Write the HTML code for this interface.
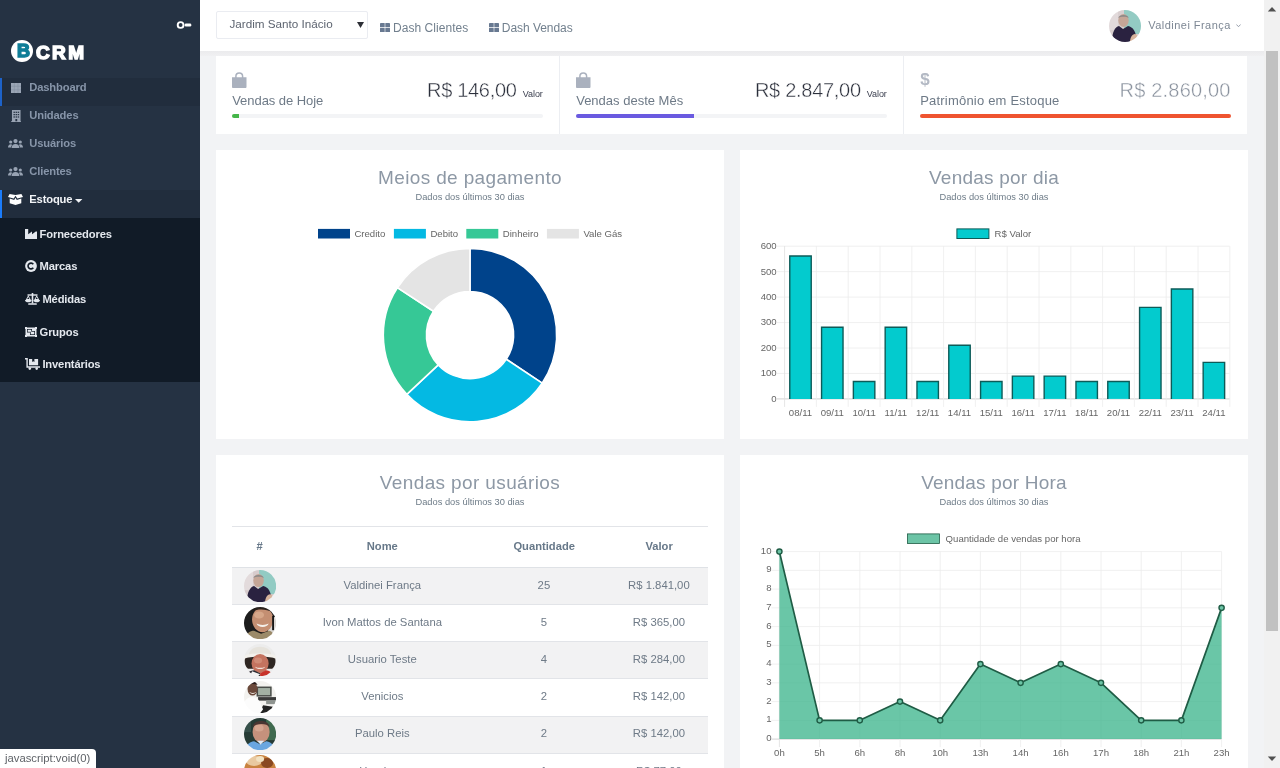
<!DOCTYPE html>
<html lang="pt-br">
<head>
<meta charset="utf-8">
<title>BCRM - Dashboard</title>
<style>
*{box-sizing:border-box;margin:0;padding:0}
html,body{width:1280px;height:768px;overflow:hidden}
body{font-family:"Liberation Sans",sans-serif;background:#f2f3f5;color:#6e7c88;position:relative}
.abs{position:absolute}
#sidebar,#header,.card,#status{will-change:transform}
/* sidebar */
#sidebar{position:absolute;left:0;top:0;width:200px;height:768px;background:#253243}
.nav-item{position:absolute;left:0;width:200px;height:28px}
.nav-item.active{background:#212d3d}
.nav-item.active:before{content:"";position:absolute;left:0;top:0;width:2px;height:27.500px;background:#1d62c9}
.nav-item.open:before{background:#1b7cfb}
.nav-item .txt{position:absolute;left:29.3px;top:2.2px;font-size:11.2px;line-height:14px;font-weight:bold;color:#8795a9;letter-spacing:-0.15px;white-space:nowrap}
.nav-item svg{position:absolute}
#submenu{position:absolute;left:0;top:218px;width:200px;height:164px;background:#111b27}
.sub-item{position:absolute;left:0;width:200px;height:20px}
.sub-item .txt{position:absolute;top:0;font-size:11.2px;line-height:14px;font-weight:bold;color:#e4e8ee;letter-spacing:-0.15px;white-space:nowrap}
/* header */
#header{position:absolute;left:200px;top:0;width:1064px;height:51px;background:#fff}
#hshadow{position:absolute;left:200px;top:51px;width:1064px;height:5px;background:linear-gradient(#ebebed,#f0f0f2)}
/* cards */
.card{position:absolute;background:#fff}
.ctitle{position:absolute;left:0;width:100%;text-align:center;font-size:19px;line-height:22px;color:#8d98a5;white-space:nowrap}
.csub{position:absolute;left:0;width:100%;text-align:center;font-size:9.3px;line-height:11px;color:#6e7c88;white-space:nowrap}
.lab{font-size:13px;line-height:16px;color:#6e7a87;white-space:nowrap}
.val{font-size:20px;line-height:24px;white-space:nowrap;letter-spacing:-.4px;-webkit-text-stroke:.4px #fff}
.valor{font-size:9px;line-height:11px;color:#3c4050;white-space:nowrap;letter-spacing:-.1px}
.th{width:120px;text-align:center;font-size:11.2px;line-height:14px;font-weight:bold;color:#677889;white-space:nowrap}
.td{width:180px;text-align:center;font-size:11.3px;line-height:14px;color:#6e7a87;white-space:nowrap}
#c-usr{overflow:hidden}
/* scrollbar */
#sb{position:absolute;left:1264px;top:0;width:16px;height:768px;background:#f1f1f1}
#sb .thumb{position:absolute;left:2px;top:51px;width:12px;height:580px;background:#c1c1c1}
#status{position:absolute;left:0;top:749px;height:19px;width:96px;background:#fff;border-top-right-radius:4px;font-size:11.3px;line-height:19.500px;color:#5f6368;padding-left:5px;white-space:nowrap}
</style>
</head>
<body>
<svg width="0" height="0" style="position:absolute"><defs><filter id="avblur" x="-20%" y="-20%" width="140%" height="140%"><feGaussianBlur stdDeviation=".55"/></filter></defs></svg>

<!-- ============ SIDEBAR ============ -->
<div id="sidebar">
  <!-- toggle -->
  <svg class="abs" style="left:176px;top:20px" width="16" height="10" viewBox="0 0 16 10"><circle cx="4.6" cy="5" r="2.9" fill="none" stroke="#fff" stroke-width="1.9"/><rect x="8.7" y="3.5" width="6.6" height="3" rx="1.3" fill="#fff"/></svg>
  <!-- logo -->
  <div class="abs" style="left:11.4px;top:40.3px;width:21.8px;height:21.8px;border-radius:50%;background:#fff"></div>
  <div class="abs" id="logoB" style="left:17.1px;top:41.2px;font-size:18px;line-height:21px;font-weight:bold;color:#0f7d97;-webkit-text-stroke:1.5px #0f7d97">B</div>
  <div class="abs" id="logoCRM" style="left:36.1px;top:40.9px;font-size:19px;line-height:23px;font-weight:bold;color:#fff;-webkit-text-stroke:1.5px #fff;letter-spacing:2.3px">CRM</div>

  <div class="nav-item active" style="top:78px">
    <svg style="left:10.500px;top:4.800px" width="10.500" height="10.300" viewBox="0 0 11 11" preserveAspectRatio="none"><rect width="11" height="11" fill="#9aa5b5"/><path d="M3.5 0v11M7.3 0v11M0 3.5h11M0 7.3h11" stroke="#7d8a9c" stroke-width=".5" fill="none"/></svg>
    <span class="txt">Dashboard</span>
  </div>
  <div class="nav-item" style="top:106px">
    <svg style="left:10.500px;top:4px" width="10.500" height="12.200" viewBox="0 0 11 13" preserveAspectRatio="none"><path fill="#98a3b3" d="M1 0h9v12h1v1H0v-1h1z"/><g fill="#253243"><rect x="2.6" y="1.8" width="1.5" height="1.3"/><rect x="4.8" y="1.8" width="1.5" height="1.3"/><rect x="7" y="1.8" width="1.5" height="1.3"/><rect x="2.6" y="4.3" width="1.5" height="1.3"/><rect x="4.8" y="4.3" width="1.5" height="1.3"/><rect x="7" y="4.3" width="1.5" height="1.3"/><rect x="2.6" y="6.8" width="1.5" height="1.3"/><rect x="4.8" y="6.8" width="1.5" height="1.3"/><rect x="7" y="6.8" width="1.5" height="1.3"/><rect x="4.6" y="9.6" width="1.9" height="2.4"/></g></svg>
    <span class="txt">Unidades</span>
  </div>
  <div class="nav-item" style="top:134px">
    <svg style="left:8px;top:5px" width="15" height="9" viewBox="0 0 15 9" fill="#98a3b3"><circle cx="7.5" cy="2.1" r="2.1"/><path d="M3.6 9c0-2.6 1.6-4.1 3.9-4.1s3.9 1.500 3.900 4.100z"/><circle cx="2.700" cy="3.000" r="1.600"/><path d="M0 8.600c0-2.100 1.100-3.400 2.700-3.400.6 0 1.100.2 1.500.500-.8.900-1.200 2.000-1.300 2.900z"/><circle cx="12.300" cy="3.000" r="1.600"/><path d="M15 8.600c0-2.100-1.100-3.400-2.700-3.400-.6 0-1.100.2-1.500.500.800.900 1.200 2.000 1.300 2.900z"/></svg>
    <span class="txt">Usu&aacute;rios</span>
  </div>
  <div class="nav-item" style="top:162px">
    <svg style="left:8px;top:5px" width="15" height="9" viewBox="0 0 15 9" fill="#98a3b3"><circle cx="7.5" cy="2.1" r="2.1"/><path d="M3.6 9c0-2.600 1.600-4.100 3.900-4.100s3.900 1.500 3.900 4.100z"/><circle cx="2.700" cy="3.000" r="1.600"/><path d="M0 8.600c0-2.100 1.100-3.400 2.700-3.400.6 0 1.100.2 1.500.500-.8.900-1.200 2.000-1.300 2.900z"/><circle cx="12.300" cy="3.000" r="1.600"/><path d="M15 8.600c0-2.100-1.100-3.400-2.700-3.400-.6 0-1.100.2-1.500.500.800.900 1.200 2.000 1.300 2.900z"/></svg>
    <span class="txt">Clientes</span>
  </div>
  <div class="nav-item active open" style="top:190px">
    <svg style="left:8px;top:4px" width="15" height="11" viewBox="0 0 15 11" fill="#fff"><path d="M1.600 0 7.500 .9 13.400 0 15 3 9.300 4.600 7.500 1.800 5.700 4.600 0 3z"/><path d="M1.700 4.600 6.200 5.900 7.500 3.800 8.800 5.900 13.300 4.600v4.600L7.500 11 1.700 9.200z"/></svg>
    <span class="txt" style="color:#f2f4f7">Estoque</span>
    <svg style="left:75px;top:9px" width="8" height="4" viewBox="0 0 8 4"><path d="M0 0h7.400L3.700 3.700z" fill="#f2f4f7"/></svg>
  </div>

  <div id="submenu">
    <div class="sub-item" style="top:9px">
      <svg class="abs" style="left:25px;top:2px" width="12" height="10" viewBox="0 0 12 10" fill="#e4e8ee"><path d="M0 0h3.200v5.200L7 2.600v2.600l3.800-2.600h1.200V10H0z"/></svg>
      <span class="txt" style="left:39.600px">Fornecedores</span>
    </div>
    <div class="sub-item" style="top:41px">
      <svg class="abs" style="left:25px;top:.8px" width="12" height="12" viewBox="0 0 12 12"><circle cx="6" cy="6" r="5.900" fill="#e4e8ee"/><path d="M8.300 4.300A2.900 2.900 0 1 0 8.300 7.700" fill="none" stroke="#111b27" stroke-width="1.600"/></svg>
      <span class="txt" style="left:39.600px">Marcas</span>
    </div>
    <div class="sub-item" style="top:74px">
      <svg class="abs" style="left:25px;top:1px" width="15" height="12" viewBox="0 0 15 12" fill="#e4e8ee"><rect x="6.700" y="0" width="1.600" height="10.500"/><rect x="2.500" y="1.300" width="10" height="1.400"/><rect x="3.200" y="10.300" width="8.600" height="1.500" rx=".5"/><path d="M3.300 2.200 5.900 7H.7zM3.300 4 2.200 6.100h2.200z" fill-rule="evenodd"/><path d="M0 7h6.600c0 1.400-1.500 2.300-3.300 2.300S0 8.400 0 7z"/><path d="M11.700 2.200 14.300 7H9.100zM11.700 4l-1.100 2.100h2.200z" fill-rule="evenodd"/><path d="M8.400 7H15c0 1.400-1.500 2.300-3.300 2.300S8.400 8.400 8.400 7z"/></svg>
      <span class="txt" style="left:42.400px">M&eacute;didas</span>
    </div>
    <div class="sub-item" style="top:107px">
      <svg class="abs" style="left:25px;top:2px" width="12" height="10" viewBox="0 0 12 10"><path fill="#e4e8ee" d="M0 0h2v.5h8V0h2v2h-.5v6h.5v2h-2v-.5H2V10H0V8h.5V2H0z"/><rect x="2" y="2" width="5" height="3.500" fill="#111b27"/><rect x="5" y="4" width="5" height="4" fill="#111b27"/><rect x="5.700" y="4.700" width="3.600" height="2.600" fill="#e4e8ee"/><rect x="2.700" y="2.700" width="3.600" height="2.100" fill="#e4e8ee"/></svg>
      <span class="txt" style="left:39.600px">Grupos</span>
    </div>
    <div class="sub-item" style="top:139px">
      <svg class="abs" style="left:25px;top:1px" width="15" height="12" viewBox="0 0 15 12" fill="#e4e8ee"><path d="M0 0h2.800v8.300H15v1.400H1.400V1.400H0z"/><path d="M4 1h3.200v3l1.100-.7 1.100.7V1h3.700v6.300H4z"/><circle cx="4.800" cy="10.600" r="1.300"/><circle cx="11.700" cy="10.600" r="1.300"/></svg>
      <span class="txt" style="left:42.400px">Invent&aacute;rios</span>
    </div>
  </div>
</div>

<!-- ============ HEADER ============ -->
<div id="header">
  <div class="abs" style="left:16px;top:11px;width:152px;height:27.5px;border:1px solid #eaecf1;border-radius:2px;background:#fff"></div>
  <span class="abs" id="selTxt" style="left:29.4px;top:16.6px;font-size:11.7px;line-height:14px;color:#5d6470;white-space:nowrap">Jardim Santo In&aacute;cio</span>
  <svg class="abs" style="left:156.600px;top:22px" width="7" height="6" viewBox="0 0 7 6"><path d="M0 0h7L3.500 6z" fill="#2d2f36"/></svg>

  <svg class="abs" style="left:179.700px;top:23.200px" width="10" height="9.300" viewBox="0 0 10 9.300" fill="#687991"><rect x="0" y="0" width="4.700" height="4.300" rx=".4"/><rect x="5.300" y="0" width="4.700" height="4.300" rx=".4"/><rect x="0" y="4.900" width="4.700" height="4.400" rx=".4"/><rect x="5.300" y="4.900" width="4.700" height="4.400" rx=".4"/></svg>
  <span class="abs" id="dash1" style="left:193px;top:20.500px;font-size:12px;line-height:15px;color:#72808e;white-space:nowrap;letter-spacing:.05px">Dash Clientes</span>
  <svg class="abs" style="left:288.500px;top:23.200px" width="10" height="9.300" viewBox="0 0 10 9.300" fill="#687991"><rect x="0" y="0" width="4.700" height="4.300" rx=".4"/><rect x="5.300" y="0" width="4.700" height="4.300" rx=".4"/><rect x="0" y="4.900" width="4.700" height="4.400" rx=".4"/><rect x="5.300" y="4.900" width="4.700" height="4.400" rx=".4"/></svg>
  <span class="abs" id="dash2" style="left:301.800px;top:20.500px;font-size:12px;line-height:15px;color:#72808e;white-space:nowrap;letter-spacing:-.05px">Dash Vendas</span>

  <!-- avatar -->
  <svg class="abs" style="left:909px;top:9.800px" width="32" height="32" viewBox="0 0 32 32">
    <defs><clipPath id="avc"><circle cx="16" cy="16" r="16"/></clipPath></defs>
    <g clip-path="url(#avc)"><g filter="url(#avblur)">
      <rect x="-4" y="-4" width="40" height="40" fill="#d9cfd0"/>
      <rect x="15" y="0" width="17" height="24" fill="#93cbc3"/>
      <rect x="0" y="0" width="9" height="20" fill="#e2dadb"/>
      <ellipse cx="14.500" cy="10.500" rx="5.200" ry="6.500" fill="#c5a697"/>
      <path d="M9.300 8c.5-4 9.900-4 10.400 0-2-1.800-8.400-1.800-10.400 0z" fill="#8c8988"/>
      <path d="M3 32c0-10 3-15 7-16l4 3 5-3c5 1 8 5 9 16z" fill="#2a2440"/>
      <path d="M21 32c0-4 2-8 5-8 2 0 3 3 3 8z" fill="#d8b49c"/>
    </g></g>
  </svg>
  <span class="abs" id="uname" style="left:948.300px;top:18.300px;font-size:11px;line-height:15px;color:#7d8794;white-space:nowrap;letter-spacing:.46px">Valdinei Fran&ccedil;a</span>
  <svg class="abs" style="left:1035.800px;top:23.500px" width="5" height="3.500" viewBox="0 0 5 3.500"><path d="M.4.500 2.500 2.700 4.600.5" fill="none" stroke="#8a93a0" stroke-width=".9"/></svg>
</div>

<div id="hshadow"></div>
<!-- ============ STAT CARDS ============ -->
<div class="card" id="stats" style="left:216px;top:56px;width:1031px;height:78px"><div class="abs" style="left:0px;top:0;width:343px;height:77px"><svg class="abs" style="left:16px;top:15.500px" width="14.500" height="16.500" viewBox="0 0 14.500 16.500"><path d="M3.900 6V4.300a3.350 3.350 0 0 1 6.700 0V6" fill="none" stroke="#aab1be" stroke-width="1.500"/><path d="M0 5.200h14.500v9.300a2 2 0 0 1-2 2H2a2 2 0 0 1-2-2z" fill="#aab1be"/></svg><span class="abs lab" style="left:16.200px;top:37px;letter-spacing:-.05px">Vendas de Hoje</span><span class="abs valor" style="right:16.300px;top:33.300px">Valor</span><span class="abs val" style="right:42.400px;top:21.600px;color:#2b2f3b;letter-spacing:-.3px">R$ 146,00</span><div class="abs" style="left:16px;top:58px;width:311px;height:4px;background:#f3f4f6;border-radius:2px"></div><div class="abs" style="left:16px;top:58px;width:6.500px;height:4px;background:#45b649;border-radius:2px 0 0 2px"></div></div><div class="abs" style="left:343px;top:0;width:1px;height:78px;background:#eceef2"></div><div class="abs" style="left:344px;top:0;width:343px;height:77px"><svg class="abs" style="left:16px;top:15.500px" width="14.500" height="16.500" viewBox="0 0 14.500 16.500"><path d="M3.900 6V4.300a3.350 3.350 0 0 1 6.700 0V6" fill="none" stroke="#aab1be" stroke-width="1.500"/><path d="M0 5.200h14.500v9.300a2 2 0 0 1-2 2H2a2 2 0 0 1-2-2z" fill="#aab1be"/></svg><span class="abs lab" style="left:16.200px;top:37px">Vendas deste M&ecirc;s</span><span class="abs valor" style="right:16.300px;top:33.300px">Valor</span><span class="abs val" style="right:42.200px;top:21.600px;color:#2b2f3b;letter-spacing:-.28px">R$ 2.847,00</span><div class="abs" style="left:16px;top:58px;width:311px;height:4px;background:#f3f4f6;border-radius:2px"></div><div class="abs" style="left:16px;top:58px;width:118px;height:4px;background:#6a5ae0;border-radius:2px 0 0 2px"></div></div><div class="abs" style="left:687px;top:0;width:1px;height:78px;background:#eceef2"></div><div class="abs" style="left:688px;top:0;width:343px;height:77px"><span class="abs" style="left:16.200px;top:13.500px;font-size:17px;line-height:20px;font-weight:bold;color:#b3b9c4">$</span><span class="abs lab" style="left:16.200px;top:37px;letter-spacing:.2px">Patrim&ocirc;nio em Estoque</span><span class="abs val" style="right:16.300px;top:21.600px;color:#8a929e;letter-spacing:.2px">R$ 2.860,00</span><div class="abs" style="left:16px;top:58px;width:311px;height:4px;background:#f3f4f6;border-radius:2px"></div><div class="abs" style="left:16px;top:58px;width:311px;height:4px;background:#ef5430;border-radius:2px"></div></div></div>

<!-- ============ CHART CARDS ============ -->
<div class="card" id="c-pay" style="left:216px;top:150px;width:508px;height:289px"><div class="ctitle" style="top:17.2px;letter-spacing:0.36px">Meios de pagamento</div><div class="csub" style="top:42.1px">Dados dos &uacute;ltimos 30 dias</div><svg class="abs" style="left:0;top:0" width="508" height="288" viewBox="216 150 508 288"><rect x="318" y="228.9" width="32" height="9.6" fill="#00438b"/><text x="354.4" y="236.6" font-family="Liberation Sans, sans-serif" font-size="9.6" fill="#666">Credito</text><rect x="393.9" y="228.9" width="32" height="9.6" fill="#04b9e3"/><text x="430.4" y="236.6" font-family="Liberation Sans, sans-serif" font-size="9.6" fill="#666">Debito</text><rect x="466.3" y="228.9" width="32" height="9.6" fill="#36c896"/><text x="502.8" y="236.6" font-family="Liberation Sans, sans-serif" font-size="9.6" fill="#666">Dinheiro</text><rect x="546.9" y="228.9" width="32" height="9.6" fill="#e4e4e4"/><text x="583.4" y="236.6" font-family="Liberation Sans, sans-serif" font-size="9.6" fill="#666">Vale G&aacute;s</text><path d="M470 248.35A86.7 86.7 0 0 1 542.13 383.16L506.27 359.24A43.6 43.6 0 0 0 470 291.45Z" fill="#00438b" stroke="#fff" stroke-width="1.6" stroke-linejoin="round"/><path d="M542.13 383.16A86.7 86.7 0 0 1 406.8 394.4L438.22 364.9A43.6 43.6 0 0 0 506.27 359.24Z" fill="#04b9e3" stroke="#fff" stroke-width="1.6" stroke-linejoin="round"/><path d="M406.8 394.4A86.7 86.7 0 0 1 397.37 287.7L433.48 311.24A43.6 43.6 0 0 0 438.22 364.9Z" fill="#36c896" stroke="#fff" stroke-width="1.6" stroke-linejoin="round"/><path d="M397.37 287.7A86.7 86.7 0 0 1 470 248.35L470 291.45A43.6 43.6 0 0 0 433.48 311.24Z" fill="#e4e4e4" stroke="#fff" stroke-width="1.6" stroke-linejoin="round"/></svg></div><!--/c-pay-->
<div class="card" id="c-day" style="left:740px;top:150px;width:508px;height:289px"><div class="ctitle" style="top:17.2px;letter-spacing:0.23px">Vendas por dia</div><div class="csub" style="top:42.1px">Dados dos &uacute;ltimos 30 dias</div><svg class="abs" style="left:0;top:0" width="508" height="288" viewBox="740 150 508 288"><rect x="956.9" y="228.9" width="32" height="9.6" fill="#03cbce" stroke="#0d5b58" stroke-width="1"/><text x="994.6" y="236.6" font-family="Liberation Sans, sans-serif" font-size="9.6" fill="#666">R$ Valor</text><text x="776.7" y="401.8" text-anchor="end" font-family="Liberation Sans, sans-serif" font-size="9.6" fill="#666">0</text><text x="776.7" y="376.35" text-anchor="end" font-family="Liberation Sans, sans-serif" font-size="9.6" fill="#666">100</text><text x="776.7" y="350.9" text-anchor="end" font-family="Liberation Sans, sans-serif" font-size="9.6" fill="#666">200</text><text x="776.7" y="325.45" text-anchor="end" font-family="Liberation Sans, sans-serif" font-size="9.6" fill="#666">300</text><text x="776.7" y="300" text-anchor="end" font-family="Liberation Sans, sans-serif" font-size="9.6" fill="#666">400</text><text x="776.7" y="274.55" text-anchor="end" font-family="Liberation Sans, sans-serif" font-size="9.6" fill="#666">500</text><text x="776.7" y="249.1" text-anchor="end" font-family="Liberation Sans, sans-serif" font-size="9.6" fill="#666">600</text><path d="M776.6 398.9H1229.8" stroke="#c8c8c8" stroke-width=".8"/><path d="M776.6 373.45H1229.8" stroke="#ececec" stroke-width=".8"/><path d="M776.6 348H1229.8" stroke="#ececec" stroke-width=".8"/><path d="M776.6 322.55H1229.8" stroke="#ececec" stroke-width=".8"/><path d="M776.6 297.1H1229.8" stroke="#ececec" stroke-width=".8"/><path d="M776.6 271.65H1229.8" stroke="#ececec" stroke-width=".8"/><path d="M776.6 246.2H1229.8" stroke="#ececec" stroke-width=".8"/><path d="M784.6 246.2V406.9" stroke="#dedede" stroke-width=".8"/><path d="M816.4 246.2V406.9" stroke="#ececec" stroke-width=".8"/><path d="M848.2 246.2V406.9" stroke="#ececec" stroke-width=".8"/><path d="M880 246.2V406.9" stroke="#ececec" stroke-width=".8"/><path d="M911.8 246.2V406.9" stroke="#ececec" stroke-width=".8"/><path d="M943.6 246.2V406.9" stroke="#ececec" stroke-width=".8"/><path d="M975.4 246.2V406.9" stroke="#ececec" stroke-width=".8"/><path d="M1007.2 246.2V406.9" stroke="#ececec" stroke-width=".8"/><path d="M1039 246.2V406.9" stroke="#ececec" stroke-width=".8"/><path d="M1070.8 246.2V406.9" stroke="#ececec" stroke-width=".8"/><path d="M1102.6 246.2V406.9" stroke="#ececec" stroke-width=".8"/><path d="M1134.4 246.2V406.9" stroke="#ececec" stroke-width=".8"/><path d="M1166.2 246.2V406.9" stroke="#ececec" stroke-width=".8"/><path d="M1198 246.2V406.9" stroke="#ececec" stroke-width=".8"/><path d="M1229.8 246.2V406.9" stroke="#ececec" stroke-width=".8"/><path d="M789.77 398.9V255.96H811.23V398.9" fill="#03cbce" stroke="#0d5b58" stroke-width="1.4"/><text x="800.5" y="415.9" text-anchor="middle" font-family="Liberation Sans, sans-serif" font-size="9.6" fill="#666">08/11</text><path d="M821.57 398.9V327.22H843.03V398.9" fill="#03cbce" stroke="#0d5b58" stroke-width="1.4"/><text x="832.3" y="415.9" text-anchor="middle" font-family="Liberation Sans, sans-serif" font-size="9.6" fill="#666">09/11</text><path d="M853.37 398.9V381.43H874.83V398.9" fill="#03cbce" stroke="#0d5b58" stroke-width="1.4"/><text x="864.1" y="415.9" text-anchor="middle" font-family="Liberation Sans, sans-serif" font-size="9.6" fill="#666">10/11</text><path d="M885.17 398.9V327.22H906.63V398.9" fill="#03cbce" stroke="#0d5b58" stroke-width="1.4"/><text x="895.9" y="415.9" text-anchor="middle" font-family="Liberation Sans, sans-serif" font-size="9.6" fill="#666">11/11</text><path d="M916.97 398.9V381.43H938.43V398.9" fill="#03cbce" stroke="#0d5b58" stroke-width="1.4"/><text x="927.7" y="415.9" text-anchor="middle" font-family="Liberation Sans, sans-serif" font-size="9.6" fill="#666">12/11</text><path d="M948.77 398.9V345.29H970.23V398.9" fill="#03cbce" stroke="#0d5b58" stroke-width="1.4"/><text x="959.5" y="415.9" text-anchor="middle" font-family="Liberation Sans, sans-serif" font-size="9.6" fill="#666">14/11</text><path d="M980.57 398.9V381.43H1002.03V398.9" fill="#03cbce" stroke="#0d5b58" stroke-width="1.4"/><text x="991.3" y="415.9" text-anchor="middle" font-family="Liberation Sans, sans-serif" font-size="9.6" fill="#666">15/11</text><path d="M1012.37 398.9V376.09H1033.83V398.9" fill="#03cbce" stroke="#0d5b58" stroke-width="1.4"/><text x="1023.1" y="415.9" text-anchor="middle" font-family="Liberation Sans, sans-serif" font-size="9.6" fill="#666">16/11</text><path d="M1044.17 398.9V376.09H1065.63V398.9" fill="#03cbce" stroke="#0d5b58" stroke-width="1.4"/><text x="1054.9" y="415.9" text-anchor="middle" font-family="Liberation Sans, sans-serif" font-size="9.6" fill="#666">17/11</text><path d="M1075.97 398.9V381.43H1097.43V398.9" fill="#03cbce" stroke="#0d5b58" stroke-width="1.4"/><text x="1086.7" y="415.9" text-anchor="middle" font-family="Liberation Sans, sans-serif" font-size="9.6" fill="#666">18/11</text><path d="M1107.77 398.9V381.43H1129.23V398.9" fill="#03cbce" stroke="#0d5b58" stroke-width="1.4"/><text x="1118.5" y="415.9" text-anchor="middle" font-family="Liberation Sans, sans-serif" font-size="9.6" fill="#666">20/11</text><path d="M1139.57 398.9V307.37H1161.03V398.9" fill="#03cbce" stroke="#0d5b58" stroke-width="1.4"/><text x="1150.3" y="415.9" text-anchor="middle" font-family="Liberation Sans, sans-serif" font-size="9.6" fill="#666">22/11</text><path d="M1171.37 398.9V289.05H1192.83V398.9" fill="#03cbce" stroke="#0d5b58" stroke-width="1.4"/><text x="1182.1" y="415.9" text-anchor="middle" font-family="Liberation Sans, sans-serif" font-size="9.6" fill="#666">23/11</text><path d="M1203.17 398.9V362.34H1224.63V398.9" fill="#03cbce" stroke="#0d5b58" stroke-width="1.4"/><text x="1213.9" y="415.9" text-anchor="middle" font-family="Liberation Sans, sans-serif" font-size="9.6" fill="#666">24/11</text></svg></div><!--/c-day-->
<div class="card" id="c-usr" style="left:216px;top:455px;width:508px;height:313px"><div class="ctitle" style="top:17.2px;letter-spacing:0.37px">Vendas por usu&aacute;rios</div><div class="csub" style="top:42.1px">Dados dos &uacute;ltimos 30 dias</div><div class="abs" style="left:16px;top:71.3px;width:476px;height:1px;background:#e2e4e8"></div><span class="abs th" style="left:-16.3px;top:84px">#</span><span class="abs th" style="left:106.3px;top:84px">Nome</span><span class="abs th" style="left:268.2px;top:84px">Quantidade</span><span class="abs th" style="left:383.1px;top:84px">Valor</span><div class="abs" style="left:16px;top:111.7px;width:476px;height:1.600px;background:#dfe2e6"></div><div class="abs" style="left:16px;top:113.2px;width:476px;height:37.1px;background:#f2f2f3;border-bottom:1px solid #e2e4e8"></div><svg class="abs" style="left:28px;top:114.8px" width="32.200" height="32.200" viewBox="0 0 32 32"><defs><clipPath id="avt0"><circle cx="16" cy="16" r="16"/></clipPath></defs><g clip-path="url(#avt0)"><g filter="url(#avblur)"><rect x="-4" y="-4" width="40" height="40" fill="#d7cccd"/><rect x="15" y="0" width="17" height="24" fill="#92cbc3"/><rect x="0" y="0" width="9" height="20" fill="#e3dbdc"/><ellipse cx="14.5" cy="10.5" rx="5.2" ry="6.5" fill="#c5a697"/><path d="M9.300 8c.5-4 9.900-4 10.400 0-2-1.800-8.400-1.800-10.400 0z" fill="#8c8988"/><path d="M3 32c0-10 3-15 7-16l4 3 5-3c5 1 8 5 9 16z" fill="#2a2440"/><path d="M21 32c0-4 2-8 5-8 2 0 3 3 3 8z" fill="#d8b49c"/></g></g></svg><span class="abs td" style="left:76.3px;top:123px">Valdinei Fran&ccedil;a</span><span class="abs td" style="left:237.9px;top:123px">25</span><span class="abs td" style="left:352.9px;top:123px">R$ 1.841,00</span><div class="abs" style="left:16px;top:150.3px;width:476px;height:37.1px;background:#fff;border-bottom:1px solid #e2e4e8"></div><svg class="abs" style="left:28px;top:151.9px" width="32.200" height="32.200" viewBox="0 0 32 32"><defs><clipPath id="avt1"><circle cx="16" cy="16" r="16"/></clipPath></defs><g clip-path="url(#avt1)"><g filter="url(#avblur)"><rect x="-4" y="-4" width="40" height="40" fill="#1b1a1a"/><rect x="24" y="10" width="10" height="16" fill="#d9d6d2"/><ellipse cx="18.5" cy="12.5" rx="10.5" ry="12.5" fill="#c48f72"/><ellipse cx="15" cy="8" rx="5" ry="3.5" fill="#d6a789"/><path d="M9 4c3-6 16-6 19 1-5-3-14-3.500-19-1z" fill="#2a201c"/><path d="M12.500 16.500c3 1.800 9 1.800 12 0-1 4.500-11 4.500-12 0z" fill="#f4f0ea"/><path d="M1 32c1-6 5-8.500 9-8.500l7 3 8-3c3 0 5 3.500 6 8.500z" fill="#9b8a69"/><rect x="28" y="9" width="1.800" height="14" fill="#111"/></g></g></svg><span class="abs td" style="left:76.3px;top:160.1px">Ivon Mattos de Santana</span><span class="abs td" style="left:237.9px;top:160.1px">5</span><span class="abs td" style="left:352.9px;top:160.1px">R$ 365,00</span><div class="abs" style="left:16px;top:187.4px;width:476px;height:37.1px;background:#f2f2f3;border-bottom:1px solid #e2e4e8"></div><svg class="abs" style="left:28px;top:189px" width="32.200" height="32.200" viewBox="0 0 32 32"><defs><clipPath id="avt2"><circle cx="16" cy="16" r="16"/></clipPath></defs><g clip-path="url(#avt2)"><g filter="url(#avblur)"><rect x="-4" y="-4" width="40" height="40" fill="#ececec"/><path d="M5 11c0-11 22-11 22 0z" fill="#e6e3dc"/><path d="M-1 12c5-3.500 29-3.500 34 0l-1 3.500c-6-3-26-3-32 0z" fill="#f3f1ec"/><path d="M1 14.500c3-2.500 27-2.500 30 0 1 5-1 9-3 10l-24 0c-2-1-4-5-3-10z" fill="#2f2521"/><ellipse cx="16" cy="19.500" rx="8.500" ry="9.500" fill="#c4735f"/><ellipse cx="14" cy="16.500" rx="4" ry="3" fill="#d08b76"/><path d="M11 22.500c3 1.600 7 1.600 10 0-1 3.300-9 3.300-10 0z" fill="#f0e2dc"/><path d="M2 32c1-4 4-5.500 8-6l6 3v3z" fill="#2b2a30"/><path d="M8 27l8 3-2 2H6z" fill="#f4f4f4"/><path d="M16 32v-3l6-3c3 .5 6 2 7 6z" fill="#c8322a"/></g></g></svg><span class="abs td" style="left:76.3px;top:197.2px">Usuario Teste</span><span class="abs td" style="left:237.9px;top:197.2px">4</span><span class="abs td" style="left:352.9px;top:197.2px">R$ 284,00</span><div class="abs" style="left:16px;top:224.5px;width:476px;height:37.1px;background:#fff;border-bottom:1px solid #e2e4e8"></div><svg class="abs" style="left:28px;top:226.1px" width="32.200" height="32.200" viewBox="0 0 32 32"><defs><clipPath id="avt3"><circle cx="16" cy="16" r="16"/></clipPath></defs><g clip-path="url(#avt3)"><g filter="url(#avblur)"><rect x="-4" y="-4" width="40" height="40" fill="#f3f2ef"/><rect x="12.500" y="5.500" width="15" height="10" fill="#4a4d4a"/><rect x="14" y="7" width="12" height="7" fill="#a3b0a4"/><rect x="14" y="16" width="18" height="3.500" fill="#3b3b3b"/><rect x="22" y="19" width="10" height="4" fill="#8f9490"/><path d="M15 32l4-8 13 2v6z" fill="#222"/><ellipse cx="8.500" cy="8" rx="5" ry="6.500" fill="#6b4a3a"/><path d="M4 4c2-4.500 8-4.500 9.500 0-3-1.500-7-1.500-9.500 0z" fill="#2b1f1a"/><path d="M5.500 11c2 1.200 4.500 1.200 6.500 0-.5 2.400-6 2.400-6.500 0z" fill="#efe7e2"/><path d="M-2 32c0-10 4-16 10-16 5 0 8 4 9 8l2 4-3 4z" fill="#fcfcfc"/></g></g></svg><span class="abs td" style="left:76.3px;top:234.3px">Venicios</span><span class="abs td" style="left:237.9px;top:234.3px">2</span><span class="abs td" style="left:352.9px;top:234.3px">R$ 142,00</span><div class="abs" style="left:16px;top:261.6px;width:476px;height:37.1px;background:#f2f2f3;border-bottom:1px solid #e2e4e8"></div><svg class="abs" style="left:28px;top:263.2px" width="32.200" height="32.200" viewBox="0 0 32 32"><defs><clipPath id="avt4"><circle cx="16" cy="16" r="16"/></clipPath></defs><g clip-path="url(#avt4)"><g filter="url(#avblur)"><rect x="-4" y="-4" width="40" height="40" fill="#263a36"/><rect x="22" y="2" width="12" height="20" fill="#3f6a4f"/><rect x="-2" y="0" width="9" height="14" fill="#34504a"/><ellipse cx="17" cy="14" rx="8.500" ry="10.500" fill="#c6917b"/><ellipse cx="15" cy="10" rx="4.500" ry="3.500" fill="#d5a590"/><path d="M8.500 9c1-8 16-8 17 0-3-4-13-4-17 0z" fill="#4a3630"/><path d="M1 32c1-6 5-8.500 9-9l6 3 6-3c4 .5 8 3 9 9z" fill="#6aa6e0"/><path d="M13 22.500l3.500 4 3.500-4z" fill="#dfe9f5"/></g></g></svg><span class="abs td" style="left:76.3px;top:271.4px">Paulo Reis</span><span class="abs td" style="left:237.9px;top:271.4px">2</span><span class="abs td" style="left:352.9px;top:271.4px">R$ 142,00</span><div class="abs" style="left:16px;top:298.7px;width:476px;height:37.1px;background:#fff;border-bottom:1px solid #e2e4e8"></div><svg class="abs" style="left:28px;top:300.3px" width="32.200" height="32.200" viewBox="0 0 32 32"><defs><clipPath id="avt5"><circle cx="16" cy="16" r="16"/></clipPath></defs><g clip-path="url(#avt5)"><g filter="url(#avblur)"><rect x="-4" y="-4" width="40" height="40" fill="#c9833f"/><ellipse cx="10" cy="6" rx="8" ry="5" fill="#e9c9a0"/><ellipse cx="23" cy="8" rx="6" ry="5" fill="#8a4a22"/><ellipse cx="16" cy="4" rx="4" ry="3" fill="#f2e2c2"/></g></g></svg><span class="abs td" style="left:76.3px;top:308.5px">Henrique</span><span class="abs td" style="left:237.9px;top:308.5px">1</span><span class="abs td" style="left:352.9px;top:308.5px">R$ 77,00</span></div><!--/c-usr-->
<div class="card" id="c-hour" style="left:740px;top:455px;width:508px;height:313px"><div class="ctitle" style="top:17.2px;letter-spacing:0.19px">Vendas por Hora</div><div class="csub" style="top:42.1px">Dados dos &uacute;ltimos 30 dias</div><svg class="abs" style="left:0;top:0" width="508" height="313" viewBox="740 455 508 313"><rect x="907.4" y="533.9" width="32" height="9.6" fill="#6cc4a6" stroke="#1f5c45" stroke-width=".8"/><text x="945.6" y="541.6" font-family="Liberation Sans, sans-serif" font-size="9.6" fill="#666">Quantidade de vendas por hora</text><path d="M771.4 739.1H1221.6" stroke="#c8c8c8" stroke-width=".8"/><text x="771.5" y="741.2" text-anchor="end" font-family="Liberation Sans, sans-serif" font-size="9.6" fill="#666">0</text><path d="M771.4 720.35H1221.6" stroke="#ececec" stroke-width=".8"/><text x="771.5" y="722.45" text-anchor="end" font-family="Liberation Sans, sans-serif" font-size="9.6" fill="#666">1</text><path d="M771.4 701.6H1221.6" stroke="#ececec" stroke-width=".8"/><text x="771.5" y="703.7" text-anchor="end" font-family="Liberation Sans, sans-serif" font-size="9.6" fill="#666">2</text><path d="M771.4 682.85H1221.6" stroke="#ececec" stroke-width=".8"/><text x="771.5" y="684.95" text-anchor="end" font-family="Liberation Sans, sans-serif" font-size="9.6" fill="#666">3</text><path d="M771.4 664.1H1221.6" stroke="#ececec" stroke-width=".8"/><text x="771.5" y="666.2" text-anchor="end" font-family="Liberation Sans, sans-serif" font-size="9.6" fill="#666">4</text><path d="M771.4 645.35H1221.6" stroke="#ececec" stroke-width=".8"/><text x="771.5" y="647.45" text-anchor="end" font-family="Liberation Sans, sans-serif" font-size="9.6" fill="#666">5</text><path d="M771.4 626.6H1221.6" stroke="#ececec" stroke-width=".8"/><text x="771.5" y="628.7" text-anchor="end" font-family="Liberation Sans, sans-serif" font-size="9.6" fill="#666">6</text><path d="M771.4 607.85H1221.6" stroke="#ececec" stroke-width=".8"/><text x="771.5" y="609.95" text-anchor="end" font-family="Liberation Sans, sans-serif" font-size="9.6" fill="#666">7</text><path d="M771.4 589.1H1221.6" stroke="#ececec" stroke-width=".8"/><text x="771.5" y="591.2" text-anchor="end" font-family="Liberation Sans, sans-serif" font-size="9.6" fill="#666">8</text><path d="M771.4 570.35H1221.6" stroke="#ececec" stroke-width=".8"/><text x="771.5" y="572.45" text-anchor="end" font-family="Liberation Sans, sans-serif" font-size="9.6" fill="#666">9</text><path d="M771.4 551.6H1221.6" stroke="#ececec" stroke-width=".8"/><text x="771.5" y="553.7" text-anchor="end" font-family="Liberation Sans, sans-serif" font-size="9.6" fill="#666">10</text><path d="M779.4 551.6V747.1" stroke="#dedede" stroke-width=".8"/><text x="779.4" y="756.1" text-anchor="middle" font-family="Liberation Sans, sans-serif" font-size="9.6" fill="#666">0h</text><path d="M819.6 551.6V747.1" stroke="#ececec" stroke-width=".8"/><text x="819.6" y="756.1" text-anchor="middle" font-family="Liberation Sans, sans-serif" font-size="9.6" fill="#666">5h</text><path d="M859.8 551.6V747.1" stroke="#ececec" stroke-width=".8"/><text x="859.8" y="756.1" text-anchor="middle" font-family="Liberation Sans, sans-serif" font-size="9.6" fill="#666">6h</text><path d="M900 551.6V747.1" stroke="#ececec" stroke-width=".8"/><text x="900" y="756.1" text-anchor="middle" font-family="Liberation Sans, sans-serif" font-size="9.6" fill="#666">8h</text><path d="M940.2 551.6V747.1" stroke="#ececec" stroke-width=".8"/><text x="940.2" y="756.1" text-anchor="middle" font-family="Liberation Sans, sans-serif" font-size="9.6" fill="#666">10h</text><path d="M980.4 551.6V747.1" stroke="#ececec" stroke-width=".8"/><text x="980.4" y="756.1" text-anchor="middle" font-family="Liberation Sans, sans-serif" font-size="9.6" fill="#666">13h</text><path d="M1020.6 551.6V747.1" stroke="#ececec" stroke-width=".8"/><text x="1020.6" y="756.1" text-anchor="middle" font-family="Liberation Sans, sans-serif" font-size="9.6" fill="#666">14h</text><path d="M1060.8 551.6V747.1" stroke="#ececec" stroke-width=".8"/><text x="1060.8" y="756.1" text-anchor="middle" font-family="Liberation Sans, sans-serif" font-size="9.6" fill="#666">16h</text><path d="M1101 551.6V747.1" stroke="#ececec" stroke-width=".8"/><text x="1101" y="756.1" text-anchor="middle" font-family="Liberation Sans, sans-serif" font-size="9.6" fill="#666">17h</text><path d="M1141.2 551.6V747.1" stroke="#ececec" stroke-width=".8"/><text x="1141.2" y="756.1" text-anchor="middle" font-family="Liberation Sans, sans-serif" font-size="9.6" fill="#666">18h</text><path d="M1181.4 551.6V747.1" stroke="#ececec" stroke-width=".8"/><text x="1181.4" y="756.1" text-anchor="middle" font-family="Liberation Sans, sans-serif" font-size="9.6" fill="#666">21h</text><path d="M1221.6 551.6V747.1" stroke="#ececec" stroke-width=".8"/><text x="1221.6" y="756.1" text-anchor="middle" font-family="Liberation Sans, sans-serif" font-size="9.6" fill="#666">23h</text><path d="M779.4 551.6 L819.6 720.35 L859.8 720.35 L900 701.6 L940.2 720.35 L980.4 664.1 L1020.6 682.85 L1060.8 664.1 L1101 682.85 L1141.2 720.35 L1181.4 720.35 L1221.6 607.85 L1221.6 739.1 L779.4 739.1Z" fill="#36b288" fill-opacity=".74"/><path d="M779.4 551.6 L819.6 720.35 L859.8 720.35 L900 701.6 L940.2 720.35 L980.4 664.1 L1020.6 682.85 L1060.8 664.1 L1101 682.85 L1141.2 720.35 L1181.4 720.35 L1221.6 607.85" fill="none" stroke="#1f5c45" stroke-width="1.7" stroke-linejoin="round"/><circle cx="779.4" cy="551.6" r="2.6" fill="#6cc4a6" stroke="#1f5c45" stroke-width="1.4"/><circle cx="819.6" cy="720.35" r="2.6" fill="#6cc4a6" stroke="#1f5c45" stroke-width="1.4"/><circle cx="859.8" cy="720.35" r="2.6" fill="#6cc4a6" stroke="#1f5c45" stroke-width="1.4"/><circle cx="900" cy="701.6" r="2.6" fill="#6cc4a6" stroke="#1f5c45" stroke-width="1.4"/><circle cx="940.2" cy="720.35" r="2.6" fill="#6cc4a6" stroke="#1f5c45" stroke-width="1.4"/><circle cx="980.4" cy="664.1" r="2.6" fill="#6cc4a6" stroke="#1f5c45" stroke-width="1.4"/><circle cx="1020.6" cy="682.85" r="2.6" fill="#6cc4a6" stroke="#1f5c45" stroke-width="1.4"/><circle cx="1060.8" cy="664.1" r="2.6" fill="#6cc4a6" stroke="#1f5c45" stroke-width="1.4"/><circle cx="1101" cy="682.85" r="2.6" fill="#6cc4a6" stroke="#1f5c45" stroke-width="1.4"/><circle cx="1141.2" cy="720.35" r="2.6" fill="#6cc4a6" stroke="#1f5c45" stroke-width="1.4"/><circle cx="1181.4" cy="720.35" r="2.6" fill="#6cc4a6" stroke="#1f5c45" stroke-width="1.4"/><circle cx="1221.6" cy="607.85" r="2.6" fill="#6cc4a6" stroke="#1f5c45" stroke-width="1.4"/></svg></div><!--/c-hour-->

<!-- ============ SCROLLBAR / STATUS ============ -->
<div id="sb"><div class="thumb"></div><svg class="abs" style="left:3px;top:6px" width="10" height="6" viewBox="0 0 10 6"><path d="M0.800 5.500 5 1 9.200 5.500z" fill="#505050"/></svg><svg class="abs" style="left:3px;top:756px" width="10" height="6" viewBox="0 0 10 6"><path d="M0.800 .5 5 5 9.200 .5z" fill="#505050"/></svg></div>
<div id="status">javascript:void(0)</div>

</body>
</html>
